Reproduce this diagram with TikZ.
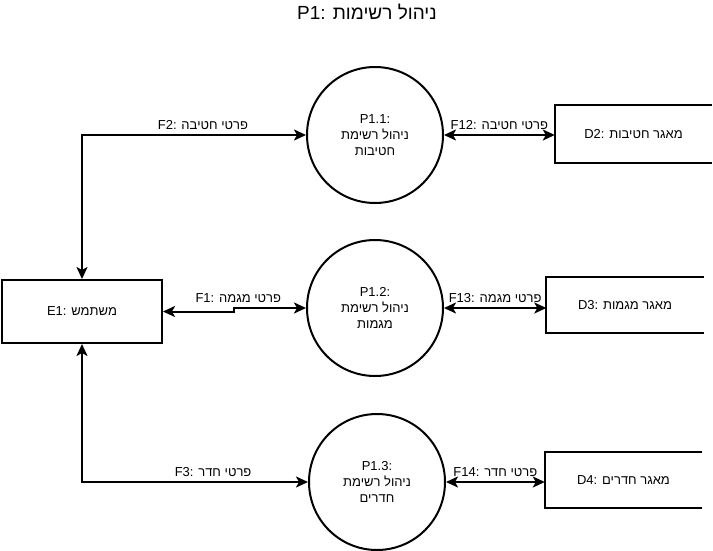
\documentclass[tikz,border=0pt]{standalone}
\usepackage{fontspec}
\setmainfont{Liberation Sans}
\newfontfamily\hebfont[Script=Hebrew]{Liberation Sans}
\usetikzlibrary{arrows.meta}
\TeXXeTstate=1
\newcommand{\heb}[1]{{\hebfont\beginR #1\endR}}

\begin{document}
\begin{tikzpicture}[
    x=1pt, y=-1pt,
    >={Stealth[length=12pt,width=11pt,inset=3pt]},
    ent/.style={rectangle, draw, line width=2pt, minimum width=160pt,
                minimum height=63pt, align=center, font=\fontsize{13}{16}\selectfont},
    proc/.style={circle, draw, line width=2pt, minimum size=136pt, inner sep=0pt,
                 align=center, font=\fontsize{13}{16}\selectfont},
    store/.style={rectangle, minimum width=157pt, minimum height=56pt,
                  align=center, font=\fontsize{13}{16}\selectfont},
    flow/.style={<->, line width=2pt},
    lbl/.style={above=3.5pt, font=\fontsize{13}{15}\selectfont, inner sep=1pt},
]
\useasboundingbox (0,0) rectangle (713,550);

\node[font=\fontsize{19}{21}\selectfont] (title) at (367,12) {P1: \heb{ניהול רשימות}};

\node[ent] (e1) at (82,311.5) {E1: \heb{משתמש}};

\node[proc] (p11) at (375,135) {P1.1:\\ \heb{ניהול רשימת}\\ \heb{חטיבות}};
\node[proc] (p12) at (375,308) {P1.2:\\ \heb{ניהול רשימת}\\ \heb{מגמות}};
\node[proc] (p13) at (377,482) {P1.3:\\ \heb{ניהול רשימת}\\ \heb{חדרים}};

\node[store, minimum height=58pt] (d2) at (633.5,134) {D2: \heb{מאגר חטיבות}};
\node[store] (d3) at (625,305) {D3: \heb{מאגר מגמות}};
\node[store] (d4) at (623.5,480) {D4: \heb{מאגר חדרים}};

% data stores are open on the right
\foreach \s in {d2,d3,d4}
  \draw[line width=2pt] (\s.north east) -- (\s.north west) -- (\s.south west) -- (\s.south east);

% flows to the user
\draw[flow] (e1.north) |- node[lbl, pos=0.77] {F2: \heb{פרטי חטיבה}} (p11.west);
\draw[flow] (e1.east) -- ++(71,0) |- node[lbl, pos=0.53] {F1: \heb{פרטי מגמה}} (p12.west);
\draw[flow] (e1.south) |- node[lbl, pos=0.79] {F3: \heb{פרטי חדר}} (p13.west);

% flows to the stores
\draw[flow] (p11.east) -- node[lbl] {F12: \heb{פרטי חטיבה}} (p11.east -| d2.west);
\draw[flow] (p12.east) -- node[lbl] {F13: \heb{פרטי מגמה}} (p12.east -| d3.west);
\draw[flow] (p13.east) -- node[lbl] {F14: \heb{פרטי חדר}} (p13.east -| d4.west);

\end{tikzpicture}
\end{document}
